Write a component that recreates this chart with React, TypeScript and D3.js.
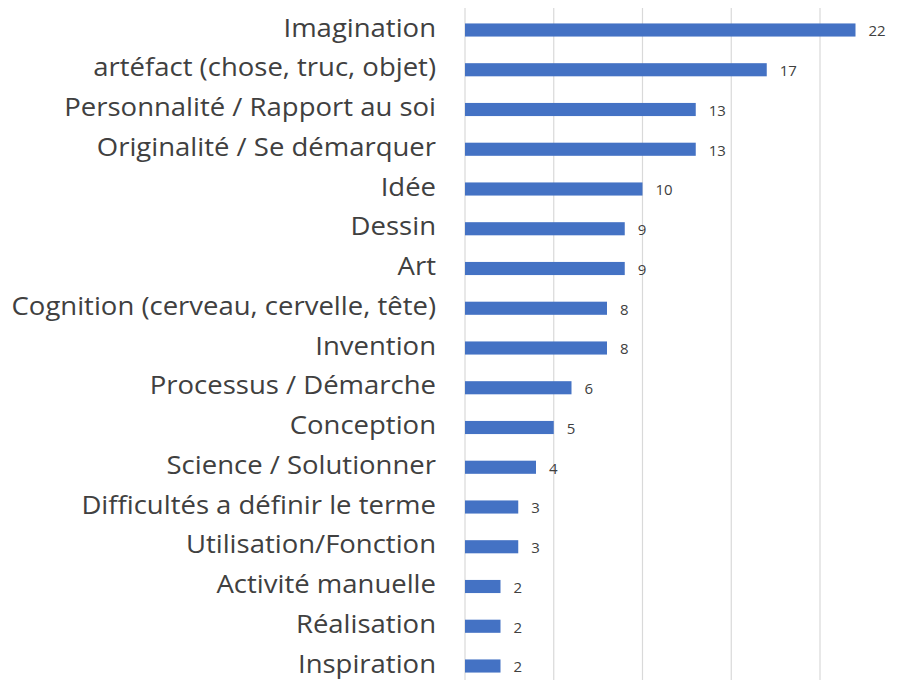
import { scaleBand, scaleLinear } from "d3";

const WIDTH = 905;
const HEIGHT = 680;

const CATEGORIES = [
  "Imagination",
  "artéfact (chose, truc, objet)",
  "Personnalité / Rapport au soi",
  "Originalité / Se démarquer",
  "Idée",
  "Dessin",
  "Art",
  "Cognition (cerveau, cervelle, tête)",
  "Invention",
  "Processus / Démarche",
  "Conception",
  "Science / Solutionner",
  "Difficultés a définir le terme",
  "Utilisation/Fonction",
  "Activité manuelle",
  "Réalisation",
  "Inspiration",
];

const VALUES = [22, 17, 13, 13, 10, 9, 9, 8, 8, 6, 5, 4, 3, 3, 2, 2, 2];

const GRID_TICKS = [0, 5, 10, 15, 20, 25];

const BAR_COLOR = "#4472C4";
const FONT = "'Open Sans', 'Noto Sans', sans-serif";
const LABEL_X = 436;

export default function App() {
  const x = scaleLinear().domain([0, 25]).range([465, 465 + 25 * 17.75]);
  const y = scaleBand<string>()
    .domain(CATEGORIES)
    .range([10.125, 685.875])
    .paddingInner(0.67)
    .paddingOuter(0.335);

  return (
    <svg
      width={WIDTH}
      height={HEIGHT}
      viewBox={`0 0 ${WIDTH} ${HEIGHT}`}
      style={{ position: "absolute", left: 0, top: 0, display: "block", background: "#fff" }}
    >
      {GRID_TICKS.map((t) => (
        <line
          key={t}
          x1={x(t)}
          x2={x(t)}
          y1={8}
          y2={HEIGHT}
          stroke="#d9d9d9"
          strokeWidth={1.2}
        />
      ))}
      {CATEGORIES.map((cat, i) => {
        const y0 = y(cat) ?? 0;
        const cy = y0 + y.bandwidth() / 2;
        return (
          <g key={cat}>
            <rect
              x={x(0)}
              y={y0}
              width={x(VALUES[i]) - x(0)}
              height={y.bandwidth()}
              fill={BAR_COLOR}
            />
            <g transform={`translate(${LABEL_X},0) scale(1.1,1)`}>
              <text
                x={0}
                y={cy}
                dy="0.27em"
                textAnchor="end"
                fontFamily={FONT}
                fontSize={25}
                fill="#404040"
              >
                {cat}
              </text>
            </g>
            <text
              x={x(VALUES[i]) + 13}
              y={cy}
              dy="0.42em"
              fontFamily={FONT}
              fontSize={15}
              fill="#404040"
            >
              {VALUES[i]}
            </text>
          </g>
        );
      })}
    </svg>
  );
}
